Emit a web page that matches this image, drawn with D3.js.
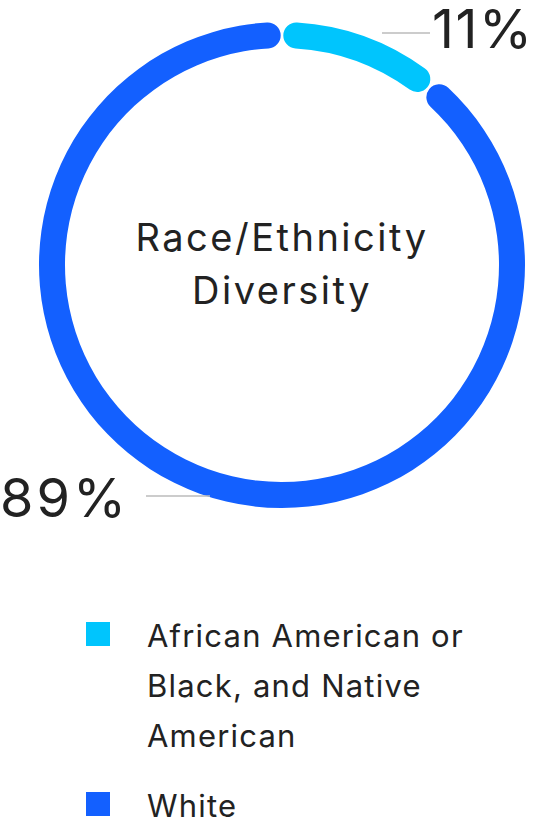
<!DOCTYPE html>
<html><head><meta charset="utf-8">
<script src="https://cdn.jsdelivr.net/npm/d3@7"></script>
<style>body{margin:0;background:#fff}</style></head>
<body><svg id="c" width="553" height="819"></svg>
<script>
const categories = ["African American or Black, and Native American", "White"];
const values = [11, 89];
const labels = ["11%", "89%"];
const colors = ["#00c5fd", "#1360ff"];
const legendLines = [["African American or","Black, and Native","American"],["White"]];

const svg = d3.select("#c");
const font = "Inter, 'Noto Sans', sans-serif";
const cx = 282, cy = 265, ro = 243, ri = 217;
const pie = d3.pie().sort(null).value(d => d)(values);
const arc = d3.arc().innerRadius(ri).outerRadius(ro).cornerRadius(13).padAngle(0.008);
const g = svg.append("g").attr("transform", `translate(${cx},${cy})`);
g.selectAll("path").data(pie).join("path").attr("d", arc).attr("fill", (d,i) => colors[i]);

svg.append("line").attr("x1",382).attr("y1",33).attr("x2",430).attr("y2",33).attr("stroke","#bbb").attr("stroke-width",1.5);
svg.append("line").attr("x1",146).attr("y1",496).attr("x2",210).attr("y2",496).attr("stroke","#bbb").attr("stroke-width",1.5);
svg.append("text").attr("x",432).attr("y",48).attr("font-family",font).attr("font-size",54).attr("letter-spacing",1.5).attr("fill","#222").text(labels[0]);
svg.append("text").attr("x",0).attr("y",517).attr("font-family",font).attr("font-size",54).attr("letter-spacing",3).attr("fill","#222").text(labels[1]);

svg.append("text").attr("x",cx).attr("y",251).attr("text-anchor","middle").attr("font-family",font).attr("font-size",38).attr("letter-spacing",2.5).attr("fill","#222").text("Race/Ethnicity");
svg.append("text").attr("x",cx).attr("y",304).attr("text-anchor","middle").attr("font-family",font).attr("font-size",38).attr("letter-spacing",2.5).attr("fill","#222").text("Diversity");

const ly = [622, 792];
legendLines.forEach((lines,i) => {
  svg.append("rect").attr("x",86).attr("y",ly[i]).attr("width",24).attr("height",24).attr("fill",colors[i]);
  lines.forEach((t,j) => svg.append("text").attr("x",147).attr("y",ly[i]+25+j*50).attr("font-family",font).attr("font-size",31).attr("letter-spacing",1.2).attr("fill","#222").text(t));
});
</script></body></html>
